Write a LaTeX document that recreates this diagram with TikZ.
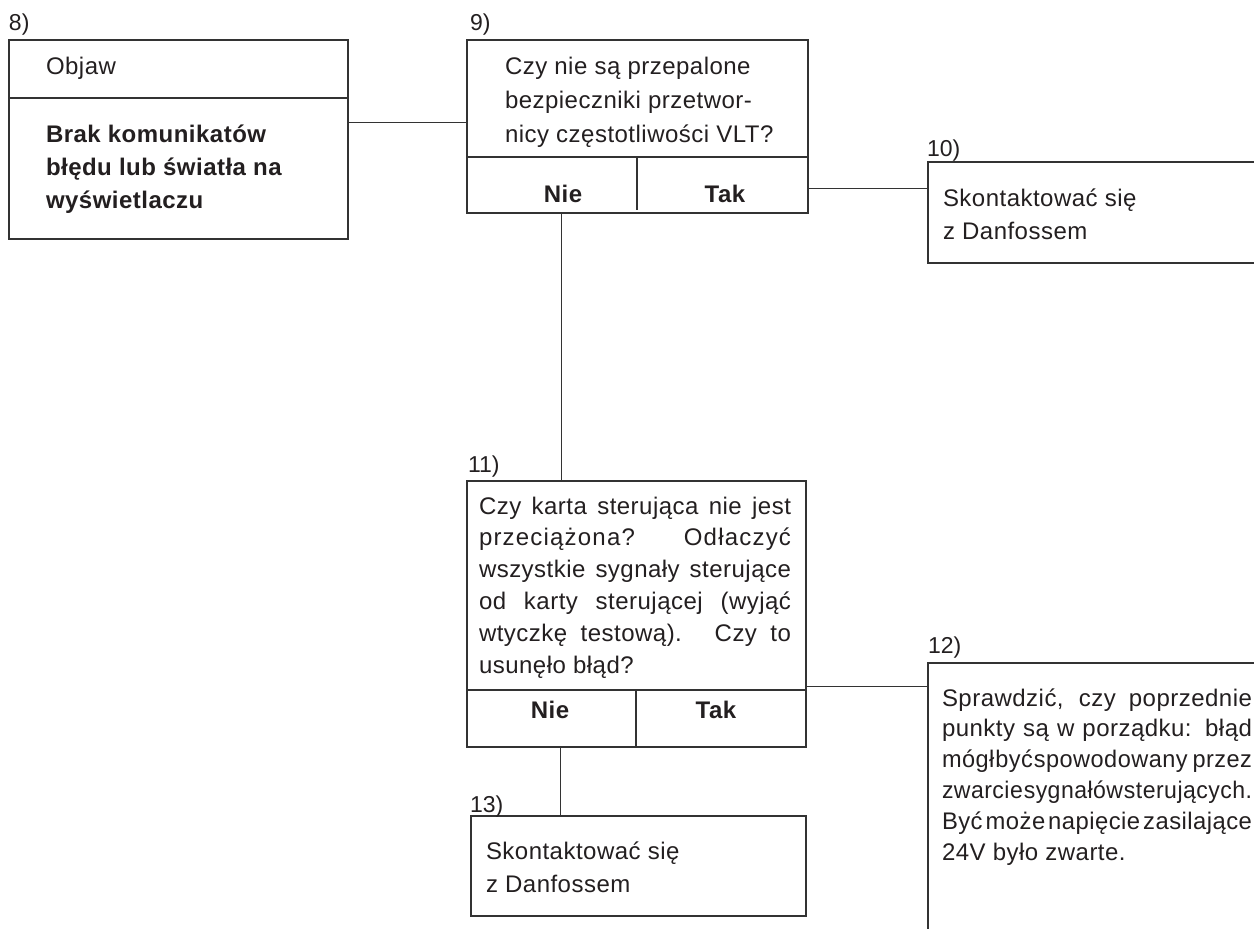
\documentclass[tikz,border=0pt]{standalone}
\usepackage{fontspec}
\setmainfont{Liberation Sans}
\newfontfamily\lsfont{Liberation Sans}[LetterSpace=2]
\newfontfamily\wsfont{Liberation Sans}[LetterSpace=5]
\definecolor{ink}{HTML}{231F20}
\definecolor{rule}{HTML}{333333}
\newsavebox\jbox
\newdimen\jsp
\jsp=5pt
\newcommand\jl[2][310pt]{%
  \sbox\jbox{\spaceskip=\the\jsp plus 1fil\relax #2}%
  \ifdim\wd\jbox>#1\relax
    \pgfmathsetmacro\jr{#1/\wd\jbox}\hbox{\scalebox{\jr}[1]{\usebox\jbox}}%
  \else
    \hbox to #1{\spaceskip=\the\jsp plus 1fil\relax #2}%
  \fi}
\newcommand\lines[2]{\vtop{\baselineskip=#1\lineskiplimit=-100pt\lineskip=0pt #2}}
\begin{document}
\begin{tikzpicture}[x=1pt,y=-1pt,
  boxline/.style={draw=rule,line width=1.3pt},
  box/.style={boxline,rectangle,inner sep=0pt,outer sep=0pt,anchor=north west},
  frame/.style={rectangle,inner sep=0pt,outer sep=0pt,anchor=north west,draw=none},
  conn/.style={draw=rule,line width=1pt},
  txt/.style={inner sep=0pt,outer sep=0pt,anchor=base west,text=ink,font=\lsfont\fontsize{24}{33}\selectfont},
  yn/.style={inner sep=0pt,outer sep=0pt,anchor=base,text=ink,font=\lsfont\bfseries\fontsize{24}{33}\selectfont},
  lbl/.style={inner sep=0pt,outer sep=0pt,anchor=base west,text=ink,font=\fontsize{23}{26}\selectfont}]
\useasboundingbox[fill=white] (0,0) rectangle (1254,929);

% boxes
\node[box,minimum width=339pt,minimum height=199pt] (b8) at (9,40) {};
\node[box,minimum width=341pt,minimum height=173pt] (b9) at (467,40) {};
\node[frame,minimum width=326pt,minimum height=101pt] (b10) at (928,162) {};
\node[box,minimum width=339pt,minimum height=266pt] (b11) at (467,481) {};
\node[frame,minimum width=326pt,minimum height=266pt] (b12) at (928,663) {};
\node[box,minimum width=335pt,minimum height=100pt] (b13) at (471,816) {};

\draw[boxline] (b10.north east) -- (b10.north west) -- (b10.south west) -- (b10.south east);
\draw[boxline] (b12.north east) -- (b12.north west) -- (b12.south west);

% dividers
\draw[boxline] ([yshift=-58pt]b8.north west) -- ([yshift=-58pt]b8.north east);
\draw[boxline] ([yshift=-117pt]b9.north west) -- ([yshift=-117pt]b9.north east);
\draw[boxline] ([xshift=170pt,yshift=-117pt]b9.north west) -- ([xshift=170pt,yshift=3pt]b9.south west);
\draw[boxline] ([yshift=-209pt]b11.north west) -- ([yshift=-209pt]b11.north east);
\draw[boxline] ([xshift=169pt,yshift=-209pt]b11.north west) -- ([xshift=169pt]b11.south west);

% connectors
\draw[conn] ([yshift=-82pt]b8.north east) -- ([yshift=-82pt]b9.north west);
\draw[conn] ([yshift=-148pt]b9.north east) -- ([yshift=-26pt]b10.north west);
\draw[conn] ([xshift=94pt]b9.south west) -- ([xshift=94pt]b11.north west);
\draw[conn] ([yshift=-205pt]b11.north east) -- ([yshift=-23pt]b12.north west);
\draw[conn] ([xshift=93pt]b11.south west) -- ([xshift=89pt]b13.north west);

% labels
\node[lbl] (l8) at (9,30) {8)};
\node[lbl] (l9) at (470,30) {9)};
\node[lbl] (l10) at (927,156) {10)};
\node[lbl] (l11) at (468,472) {11)};
\node[lbl] (l12) at (928,653) {12)};
\node[lbl] (l13) at (470,812) {13)};

% texts
\node[txt] (t8a) at (46,74) {Objaw};
\node[txt,font=\lsfont\bfseries\fontsize{24}{33}\selectfont] (t8b) at (46,142)
  {\lines{33pt}{\hbox{Brak komunikatów}\hbox{błędu lub światła na}\hbox{wyświetlaczu}}};
\node[txt] (t9) at (505,74)
  {\lines{34pt}{\hbox{Czy nie są przepalone}\hbox{bezpieczniki przetwor-}\hbox{nicy częstotliwości VLT?}}};
\node[yn] (n9) at (563,202) {Nie};
\node[yn] (y9) at (725,202) {Tak};
\node[txt] (t10) at (943,206)
  {\lines{33pt}{\hbox{Skontaktować się}\hbox{z Danfossem}}};
\node[txt] (t11) at (479,514)
  {\lines{31.8pt}{\jl[312pt]{Czy karta sterująca nie jest}\jl[312pt]{\wsfont przeciążona? Odłaczyć}\jl[312pt]{wszystkie sygnały sterujące}\jl[312pt]{od karty sterującej (wyjąć}\jl[312pt]{wtyczkę testową). Czy to}\hbox{usunęło błąd?}}};
\node[yn] (n11) at (550,718) {Nie};
\node[yn] (y11) at (716,718) {Tak};
\node[txt] (t12) at (942,706)
  {\lines{30.8pt}{\jl{Sprawdzić, czy poprzednie}\jl{punkty są w porządku: błąd}{\jsp=1pt\jl{mógł być spowodowany\hspace{5pt}przez}\jl{zwarcie sygnałów sterujących.}}{\jsp=3pt\jl{Być może napięcie zasilające}}\hbox{24V było zwarte.}}};
\node[txt] (t13) at (486,859)
  {\lines{33pt}{\hbox{Skontaktować się}\hbox{z Danfossem}}};
\end{tikzpicture}
\end{document}
